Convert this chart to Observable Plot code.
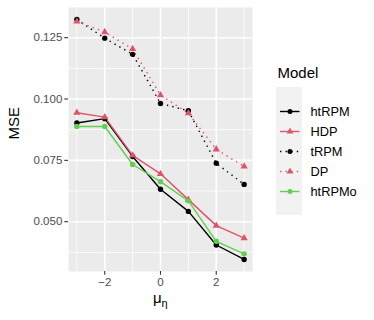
<!DOCTYPE html>
<html>
<head>
<meta charset="utf-8">
<script src="https://cdn.jsdelivr.net/npm/d3@7"></script>
<script src="https://cdn.jsdelivr.net/npm/@observablehq/plot@0.6"></script>
<style>
  html, body { margin: 0; padding: 0; background: #fff; }
  #wrap { position: relative; width: 374px; height: 320px; font-family: "Liberation Sans", Arial, sans-serif; }
  #main { position: absolute; left: 0; top: 0; }
  #keybg { position: absolute; left: 276px; top: 87px; width: 26px; height: 128px; background: #F2F2F2; }
  #legend { position: absolute; left: 270px; top: 60px; }
</style>
</head>
<body>
<div id="wrap">
  <div id="main"></div>
  <div id="keybg"></div>
  <div id="legend"></div>
</div>
<script>
// ---- data ----
const muEta = [-3, -2, -1, 0, 1, 2, 3];
const models = ["htRPM", "HDP", "tRPM", "DP", "htRPMo"];
const htRPM  = [0.0902, 0.0920, 0.0766, 0.0632, 0.0542, 0.0405, 0.0346];
const HDP    = [0.0944, 0.0926, 0.0770, 0.0695, 0.0590, 0.0484, 0.0433];
const tRPM   = [0.1324, 0.1248, 0.1182, 0.0982, 0.0952, 0.0738, 0.0652];
const DP     = [0.1316, 0.1273, 0.1204, 0.1016, 0.0942, 0.0795, 0.0725];
const htRPMo = [0.0888, 0.0888, 0.0733, 0.0663, 0.0585, 0.0420, 0.0369];
const xTicks = [-2, 0, 2];
const xMinor = [-3, -1, 1, 3];
const yTicks = [0.050, 0.075, 0.100, 0.125];
const yMinor = [0.0375, 0.0625, 0.0875, 0.1125];
const xTitle = "μ", xTitleSub = "η", yTitle = "MSE", legendTitle = "Model";

// ---- styles ----
const seriesValues = {htRPM, HDP, tRPM, DP, htRPMo};
const style = {
  htRPM:  {color: "#000000", dash: null,      symbol: "circle"},
  HDP:    {color: "#DF536B", dash: null,      symbol: "triangle"},
  tRPM:   {color: "#000000", dash: "1.4,4.2", symbol: "circle"},
  DP:     {color: "#DF536B", dash: "1.4,4.2", symbol: "triangle"},
  htRPMo: {color: "#61D04F", dash: null,      symbol: "circle"}
};
const rows = models.flatMap(m => muEta.map((x, i) => ({model: m, x, y: seriesValues[m][i]})));
const font = "Liberation Sans, Arial, sans-serif";
const minus = d => (d < 0 ? "\u2212" + Math.abs(d) : String(d));

const lineMarks = models.map(m => Plot.line(rows.filter(r => r.model === m), {
  x: "x", y: "y", stroke: style[m].color, strokeWidth: 1.4,
  strokeDasharray: style[m].dash, strokeLinecap: "butt"
}));
const dotMarks = models.map(m => Plot.dot(rows.filter(r => r.model === m), {
  x: "x", y: "y", fill: style[m].color, stroke: "none",
  symbol: style[m].symbol, r: 2.7
}));

const main = Plot.plot({
  width: 374, height: 320,
  marginLeft: 68, marginRight: 122, marginTop: 7, marginBottom: 49,
  style: {fontFamily: font, background: "transparent"},
  x: {domain: [-3.3, 3.3]},
  y: {domain: [0.0297, 0.1373]},
  marks: [
    Plot.frame({fill: "#EBEBEB", stroke: "none"}),
    Plot.gridX(xMinor, {stroke: "#fff", strokeOpacity: 1, strokeWidth: 0.8}),
    Plot.gridY(yMinor, {stroke: "#fff", strokeOpacity: 1, strokeWidth: 0.8}),
    Plot.gridX(xTicks, {stroke: "#fff", strokeOpacity: 1, strokeWidth: 1.6}),
    Plot.gridY(yTicks, {stroke: "#fff", strokeOpacity: 1, strokeWidth: 1.6}),
    ...lineMarks,
    ...dotMarks,
    Plot.axisX(xTicks, {tickFormat: minus, tickSize: 3.7, tickPadding: 2.5, fontSize: 11.5,
      stroke: "#333", color: "#4D4D4D", strokeWidth: 1.1, label: null}),
    Plot.axisY(yTicks, {tickFormat: d3.format(".3f"), tickSize: 3.7, tickPadding: 2.5, fontSize: 11.5,
      stroke: "#333", color: "#4D4D4D", strokeWidth: 1.1, label: null}),
    Plot.text([yTitle], {frameAnchor: "left", dx: -54, rotate: -90, fontSize: 15, fill: "#000", lineAnchor: "middle"}),
    Plot.text([xTitle], {frameAnchor: "bottom", dx: -7.5, dy: 31, textAnchor: "start", lineAnchor: "bottom", fontSize: 15, fill: "#000"}),
    Plot.text([xTitleSub], {frameAnchor: "bottom", dx: 1, dy: 35, textAnchor: "start", lineAnchor: "bottom", fontSize: 11, fill: "#000"})
  ]
});
document.getElementById("main").append(main);

// ---- legend (separate small plot) ----
const legendLines = models.map(m => Plot.ruleY([m], {
  y: d => d, x1: 10, x2: 29.5, stroke: style[m].color, strokeWidth: 1.4,
  strokeDasharray: style[m].dash, strokeLinecap: "butt"
}));
const legendDots = models.map(m => Plot.dot([m], {
  x: 19.5, y: d => d, fill: style[m].color, stroke: "none", symbol: style[m].symbol, r: 2.5
}));
const legend = Plot.plot({
  width: 104, height: 160, margin: 0,
  style: {fontFamily: font, background: "transparent", overflow: "visible"},
  x: {domain: [0, 104], range: [0, 104], axis: null},
  y: {type: "point", domain: models, range: [40, 142.4], axis: null},
  marks: [
    ...legendLines,
    ...legendDots,
    Plot.text(models, {x: 40, y: d => d, text: d => d, textAnchor: "start", fontSize: 12.8, fill: "#000"}),
    Plot.text([legendTitle], {frameAnchor: "top-left", dx: 7, dy: 17, lineAnchor: "bottom", textAnchor: "start", fontSize: 15, fill: "#000"})
  ]
});
document.getElementById("legend").append(legend);
</script>
</body>
</html>
